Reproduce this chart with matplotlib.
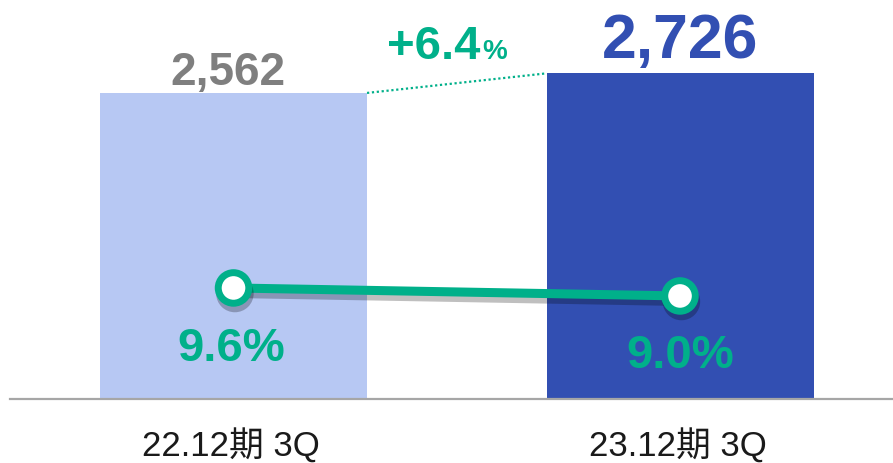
import matplotlib
matplotlib.use("Agg")
import matplotlib.pyplot as plt
import matplotlib.patheffects as pe

# data
categories = ["22.12期 3Q", "23.12期 3Q"]
sales = [2562, 2726]
sales_labels = ["2,562", "2,726"]
margin = [9.6, 9.0]
margin_labels = ["9.6%", "9.0%"]
growth_label = "+6.4"

BAR_COLORS = ["#B7C8F3", "#324FB2"]
SALES_COLORS = ["#7F7F7F", "#324FB2"]
GREEN = "#00B08A"
FONT = ["Liberation Sans", "Noto Sans CJK JP"]

fig = plt.figure(figsize=(8.93, 4.63), dpi=100)
ax = fig.add_axes([10 / 893, 64 / 463, 883 / 893, 399 / 463])
ax.set_xlim(-0.5006, 1.477)
ax.set_ylim(0, 3340)
ax.axis("off")

x = list(range(len(categories)))
bars = ax.bar(x, sales, width=0.598, color=BAR_COLORS)

# baseline
ax.axhline(0, color="#A6A6A6", lw=1.6, clip_on=False)

# value labels above bars
ax.text(x[0] - 0.012, sales[0] + 165, sales_labels[0], ha="center", va="center",
        fontsize=33, fontweight="bold", color=SALES_COLORS[0], family=FONT)
ax.text(x[1] + 0.0, sales[1] + 270, sales_labels[1], ha="center", va="center",
        fontsize=45, fontweight="bold", color=SALES_COLORS[1], family=FONT)

# dotted growth connector between bar tops
half = 0.598 / 2
ax.plot([x[0] + half, x[1] - half], [sales[0], sales[1]], color=GREEN, lw=1.6,
        ls=(0, (1, 1.2)))
ax.text(0.553, sales[1] + 220, growth_label, ha="right", va="center",
        fontsize=34, fontweight="bold", color=GREEN, family=FONT)
ax.text(0.556, sales[1] + 175, "%", ha="left", va="center",
        fontsize=20, fontweight="bold", color=GREEN, family=FONT)

# category labels
for xi, cat in zip(x, categories):
    ax.text(xi - 0.005, -395, cat, ha="center", va="center", fontsize=25,
            color="#1A1A1A", family=FONT)

# margin line on secondary axis
ax2 = ax.twinx()
ax2.set_ylim(1.27, 31.2)
ax2.axis("off")
ax2.plot(x, margin, color=GREEN, lw=6.5, marker="o", markersize=22,
         markerfacecolor="white", markeredgecolor=GREEN, markeredgewidth=5,
         solid_capstyle="butt",
         path_effects=[pe.SimpleLineShadow(offset=(1, -4), alpha=0.25, shadow_color="black"),
                       pe.Normal()])
ax2.text(x[0] - 0.005, margin[0] - 4.6, margin_labels[0], ha="center", va="center",
         fontsize=34, fontweight="bold", color=GREEN, family=FONT)
ax2.text(x[1] + 0.0, margin[1] - 4.5, margin_labels[1], ha="center", va="center",
         fontsize=34, fontweight="bold", color=GREEN, family=FONT)

fig.savefig("out.png", dpi=100)
